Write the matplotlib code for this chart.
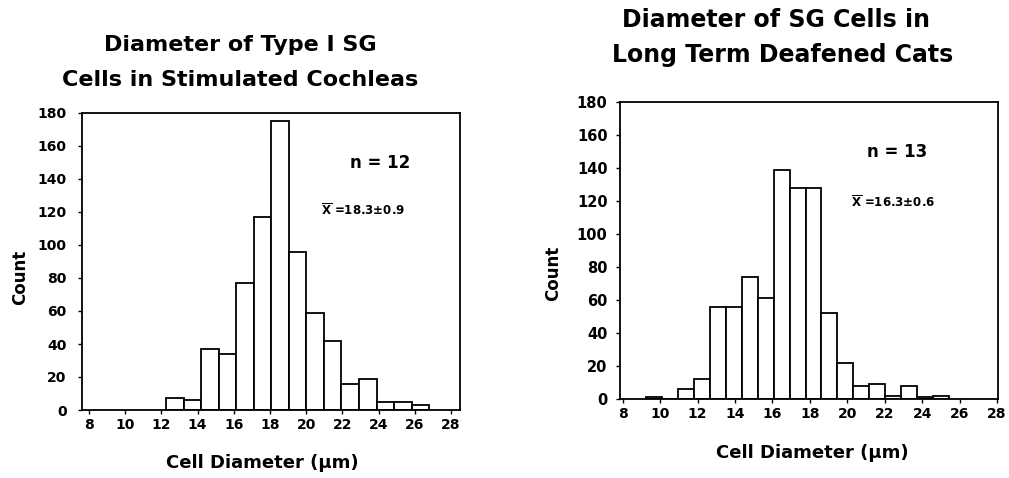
import matplotlib
matplotlib.use("Agg")
import matplotlib.pyplot as plt
import numpy as np

# ---- data ----
left_title = ["Diameter of Type I SG", "Cells in Stimulated Cochleas"]
right_title = ["Diameter of SG Cells in", "Long Term Deafened Cats"]
xlabel = "Cell Diameter (µm)"
ylabel = "Count"
x_ticks = [8, 10, 12, 14, 16, 18, 20, 22, 24, 26, 28]
y_ticks = [0, 20, 40, 60, 80, 100, 120, 140, 160, 180]

left_start = 12.25     # left edge of first bar (axis units)
left_width = 0.97
left_counts = [7, 6, 37, 34, 77, 117, 175, 96, 59, 42, 16, 19, 5, 5, 3]
left_n = "n = 12"
left_mean = "18.3", "0.9"

right_start = 9.27
right_width = 0.85
right_counts = [1, 0, 6, 12, 56, 56, 74, 61, 139, 128, 128, 52, 22, 8, 9, 2, 8, 1, 2]
right_n = "n = 13"
right_mean = "16.3", "0.6"

W, H = 1009, 478
plt.rcParams['font.family'] = ['DejaVu Sans']
plt.rcParams['font.weight'] = 'bold'
fig = plt.figure(figsize=(W / 100, H / 100), dpi=100)


def box(x0, y0, x1, y1):
    return [x0 / W, 1 - y1 / H, (x1 - x0) / W, (y1 - y0) / H]


def fx(x):
    return x / W


def fy(y):
    return 1 - y / H


def draw(ax, start, width, counts, xlim, ylab_size, ypad):
    edges = start + width * np.arange(len(counts))
    ax.bar(edges, counts, width=width, align='edge', color='white',
           edgecolor='black', linewidth=1.3)
    ax.set_xlim(*xlim)
    ax.set_ylim(0, 180)
    ax.set_xticks(x_ticks)
    ax.set_yticks(y_ticks)
    ax.tick_params(axis='both', direction='out', length=3, width=1)
    ax.tick_params(axis='x', labelsize=10, pad=3)
    ax.tick_params(axis='y', labelsize=ylab_size, pad=ypad)
    for lab in ax.get_xticklabels() + ax.get_yticklabels():
        lab.set_fontweight('bold')
    for s in ax.spines.values():
        s.set_linewidth(1.3)


axL = fig.add_axes(box(82, 113, 460, 410))
draw(axL, left_start, left_width, left_counts, (7.61, 28.5), 10, 8)
axR = fig.add_axes(box(620, 102, 998, 399))
draw(axR, right_start, right_width, right_counts, (7.86, 28.05), 10.5, 6)

# titles
fig.text(fx(240), fy(45), left_title[0], ha='center', va='center', fontsize=16, fontweight='bold')
fig.text(fx(240), fy(80), left_title[1], ha='center', va='center', fontsize=16, fontweight='bold')
fig.text(fx(776), fy(20), right_title[0], ha='center', va='center', fontsize=17, fontweight='bold')
fig.text(fx(783), fy(55), right_title[1], ha='center', va='center', fontsize=17, fontweight='bold')

# axis labels
fig.text(fx(20), fy(277), ylabel, rotation=90, ha='center', va='center', fontsize=12, fontweight='bold')
fig.text(fx(553), fy(273), ylabel, rotation=90, ha='center', va='center', fontsize=12, fontweight='bold')
fig.text(fx(262), fy(463), xlabel, ha='center', va='center', fontsize=13, fontweight='bold')
fig.text(fx(812), fy(453), xlabel, ha='center', va='center', fontsize=13, fontweight='bold')

# annotations
fig.text(fx(380), fy(163), left_n, ha='center', va='center', fontsize=12, fontweight='bold')
fig.text(fx(363), fy(210), r"$\overline{\mathbf{X}}$ =%s$\pm$%s" % left_mean,
         ha='center', va='center', fontsize=8.5, fontweight='bold')
fig.text(fx(897), fy(152), right_n, ha='center', va='center', fontsize=12, fontweight='bold')
fig.text(fx(893), fy(202), r"$\overline{\mathbf{X}}$ =%s$\pm$%s" % right_mean,
         ha='center', va='center', fontsize=8.5, fontweight='bold')

fig.savefig("out.png", dpi=100)
